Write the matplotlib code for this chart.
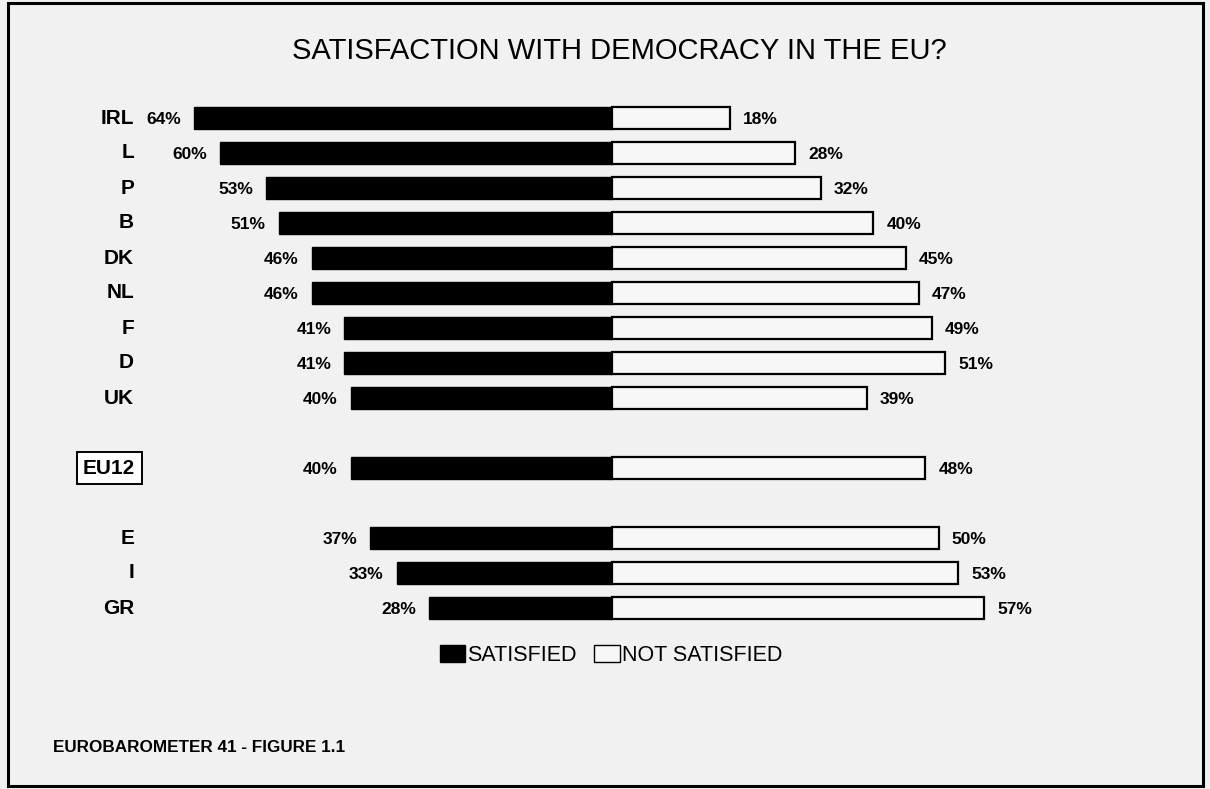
import numpy as np
import matplotlib.pyplot as plt
from matplotlib.patches import Patch, Rectangle

plt.rcParams['font.family'] = ['Liberation Sans', 'DejaVu Sans']

# data
countries = ['IRL', 'L', 'P', 'B', 'DK', 'NL', 'F', 'D', 'UK', 'EU12', 'E', 'I', 'GR']
satisfied = [64, 60, 53, 51, 46, 46, 41, 41, 40, 40, 37, 33, 28]
not_satisfied = [18, 28, 32, 40, 45, 47, 49, 51, 39, 48, 50, 53, 57]
rows = [0, 1, 2, 3, 4, 5, 6, 7, 8, 10, 12, 13, 14]

W, H = 1210, 789
fig = plt.figure(figsize=(W / 100, H / 100), dpi=100)
fig.patch.set_facecolor('#f1f1f1')
ax = fig.add_axes([0, 0, 1, 1])
ax.set_facecolor('#f1f1f1')

# pixel mapping: center 612px, 6.53 px per %, rows 35px apart from y=118
px = 6.53
ax.set_xlim(-612 / px, (W - 612) / px)
ax.set_ylim((H - 118) / 35, -118 / 35)
ax.axis('off')

sat = -np.array(satisfied)
ax.barh(rows, sat, height=0.63, color='black', edgecolor='black', lw=1)
ax.barh(rows, not_satisfied, height=0.63, color='#f7f7f7', edgecolor='black', lw=1.6)

for r, c, s, n in zip(rows, countries, satisfied, not_satisfied):
    ax.text(-s - 2.0, r + 0.05, f'{s}%', ha='right', va='center', fontsize=12.5,
            fontweight='bold')
    ax.text(n + 2.0, r + 0.05, f'{n}%', ha='left', va='center', fontsize=12.5,
            fontweight='bold')
    if c == 'EU12':
        ax.text(-73.0, r, c, ha='right', va='center', fontsize=15,
                fontweight='bold',
                bbox=dict(boxstyle='square,pad=0.3', fc='white', ec='black', lw=1.4))
    else:
        ax.text(-73.2, r, c, ha='right', va='center', fontsize=15,
                fontweight='bold')

fig.text(0.512, 0.935, 'SATISFACTION WITH DEMOCRACY IN THE EU?', ha='center',
         va='center', fontsize=21)

handles = [Patch(facecolor='black', edgecolor='black', label='SATISFIED'),
           Patch(facecolor='#f7f7f7', edgecolor='black', label='NOT SATISFIED')]
fig.legend(handles=handles, loc='center', bbox_to_anchor=(0.505, 0.169), ncol=2,
           frameon=False, fontsize=15.5, handlelength=1.2, handleheight=0.8,
           handletextpad=0.1, columnspacing=0.8)

fig.text(0.044, 0.052, 'EUROBAROMETER 41 - FIGURE 1.1', ha='left', va='center',
         fontsize=12.3, fontweight='bold')

fig.add_artist(Rectangle((0.007, 0.004), 0.987, 0.992, transform=fig.transFigure,
                         fill=False, ec='black', lw=2.2))

fig.savefig('out.png', dpi=100, facecolor=fig.get_facecolor())
